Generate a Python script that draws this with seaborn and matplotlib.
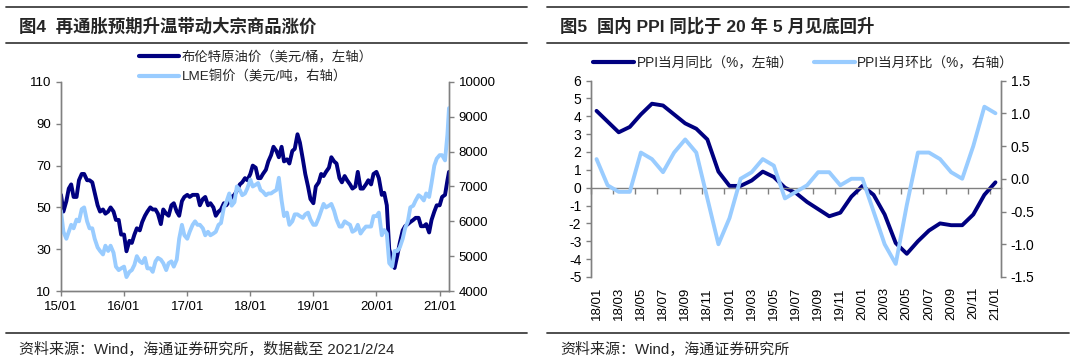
import numpy as np
import pandas as pd
import matplotlib
matplotlib.use('Agg')
import matplotlib.pyplot as plt
import matplotlib.dates as mdates
from matplotlib.lines import Line2D
import seaborn as sns

# ---- 图4：布伦特原油 / LME铜，半月取值 ----
oil_2015 = [56, 48, 53, 59, 61, 55, 55, 63, 66, 66, 63, 63, 62, 57, 51, 48, 49, 47, 48, 50, 48, 44, 44, 37]
oil_2016 = [37, 29, 34, 33, 37, 40, 39, 43, 46, 48, 50, 49, 49, 47, 42, 49, 47, 46, 51, 52, 48, 46, 53, 55]
oil_2017 = [56, 55, 56, 56, 56, 51, 54, 55, 51, 52, 50, 46, 48, 49, 52, 51, 53, 55, 56, 58, 61, 62, 64, 63]
oil_2018 = [66, 70, 69, 64, 64, 66, 68, 72, 75, 79, 77, 74, 79, 72, 73, 71, 77, 78, 85, 81, 73, 66, 60, 54]
oil_2019 = [52, 60, 62, 66, 65, 67, 69, 74, 72, 71, 64, 62, 65, 63, 61, 59, 60, 67, 59, 59, 61, 63, 61, 66]
oil_2020 = [67, 64, 56, 57, 51, 30, 25, 21, 27, 33, 39, 41, 42, 43, 44, 45, 45, 41, 41, 42, 38, 44, 48, 51]
oil_2021 = [51, 55, 56, 63, 67]

cu_2015 = [6300, 5700, 5500, 5700, 5900, 5800, 6050, 6000, 6350, 6400, 6000, 5800,
           5800, 5500, 5250, 5150, 5050, 5300, 5150, 5300, 5100, 4700, 4600, 4650]
cu_2016 = [4700, 4400, 4550, 4600, 4750, 5000, 4850, 4800, 4950, 4650, 4650, 4550,
           4850, 4950, 4900, 4800, 4600, 4800, 4850, 4700, 4900, 5500, 5900, 5600]
cu_2017 = [5500, 5700, 5900, 6000, 5900, 5900, 5800, 5600, 5700, 5600, 5650, 5700,
           5900, 5950, 6400, 6550, 6800, 6450, 6550, 7000, 6900, 6750, 6800, 6950]
cu_2018 = [7200, 7000, 7050, 7100, 6900, 6850, 6750, 6800, 6800, 6850, 6900, 7250,
           6600, 6150, 6250, 5900, 6000, 6200, 6200, 6150, 6100, 6200, 6250, 6050]
cu_2019 = [5900, 5900, 6100, 6300, 6500, 6400, 6450, 6500, 6300, 6050, 5850, 5850,
           6000, 5950, 5900, 5700, 5750, 5900, 5650, 5750, 5850, 5850, 5850, 6150]
cu_2020 = [6150, 6250, 5600, 5750, 5650, 4800, 4700, 5150, 5150, 5250, 5500, 5800,
           6000, 6400, 6450, 6600, 6750, 6700, 6600, 6800, 6700, 7100, 7600, 7800]
cu_2021 = [7900, 7900, 7750, 8500, 9250]

oil = oil_2015 + oil_2016 + oil_2017 + oil_2018 + oil_2019 + oil_2020 + oil_2021
copper = cu_2015 + cu_2016 + cu_2017 + cu_2018 + cu_2019 + cu_2020 + cu_2021
dates = pd.date_range('2015-01-01', '2021-02-15', freq='SMS').append(pd.DatetimeIndex(['2021-02-24']))

# ---- 图5：PPI 同比 / 环比（%），2018/01-2021/01 ----
ppi_yoy = [4.3, 3.7, 3.1, 3.4, 4.1, 4.7, 4.6, 4.1, 3.6, 3.3, 2.7, 0.9,
           0.1, 0.1, 0.4, 0.9, 0.6, 0.0, -0.3, -0.8, -1.2, -1.6, -1.4, -0.5,
           0.1, -0.4, -1.5, -3.1, -3.7, -3.0, -2.4, -2.0, -2.1, -2.1, -1.5, -0.4,
           0.3]
ppi_mom = [0.3, -0.1, -0.2, -0.2, 0.4, 0.3, 0.1, 0.4, 0.6, 0.4, -0.3, -1.0,
           -0.6, 0.0, 0.1, 0.3, 0.2, -0.3, -0.2, -0.1, 0.1, 0.1, -0.1, 0.0,
           0.0, -0.5, -1.0, -1.3, -0.4, 0.4, 0.4, 0.3, 0.1, 0.0, 0.5, 1.1,
           1.0]
months = pd.date_range('2018-01-01', '2021-01-01', freq='MS').strftime('%y/%m').tolist()

NAVY = '#000080'
LIGHT = '#99CCFF'
GREY = '#808080'

sns.set_style('ticks')
plt.rcParams['font.family'] = ['Liberation Sans', 'Noto Sans CJK SC']
plt.rcParams['axes.unicode_minus'] = False

W, H = 1080, 362
fig = plt.figure(figsize=(W / 100, H / 100), dpi=100)


def fx(px):
    return px / W


def fy(px):
    return 1 - px / H


# ---------- 左图 ----------
ax1 = fig.add_axes([fx(61), fy(291), fx(449 - 61), (291 - 82) / H])
ax1r = ax1.twinx()
sns.lineplot(x=dates, y=oil, ax=ax1, color=NAVY, linewidth=2.8, legend=False)
sns.lineplot(x=dates, y=copper, ax=ax1r, color=LIGHT, linewidth=2.8, legend=False)

ax1.set_xlim(pd.Timestamp('2015-01-01'), pd.Timestamp('2021-02-24'))
ax1.set_ylim(10, 110)
ax1.set_yticks(range(10, 111, 20))
ax1r.set_ylim(4000, 10000)
ax1r.set_yticks(range(4000, 10001, 1000))
ax1.xaxis.set_major_locator(mdates.YearLocator())
ax1.xaxis.set_major_formatter(mdates.DateFormatter('%y/%m'))
ax1.set_xlabel('')
ax1.set_ylabel('')
ax1r.set_ylabel('')

for a in (ax1, ax1r):
    a.spines['top'].set_visible(False)
    for s in a.spines.values():
        s.set_color(GREY)
        s.set_linewidth(1)
    a.tick_params(colors=GREY, labelcolor='black', labelsize=9.5, length=3.5, width=1)

h1 = [Line2D([], [], color=NAVY, lw=3), Line2D([], [], color=LIGHT, lw=3)]
fig.legend(h1, ['布伦特原油价（美元/桶，左轴）', 'LME铜价（美元/吨，右轴）'],
           loc='upper left', bbox_to_anchor=(fx(139), fy(51)), frameon=False,
           fontsize=9.6, handlelength=3.0, handletextpad=0.2, labelspacing=0.5,
           borderpad=0, borderaxespad=0)

# ---------- 右图 ----------
ax2 = fig.add_axes([fx(591), fy(277), fx(1001 - 591), (277 - 80.5) / H])
ax2r = ax2.twinx()
idx = np.arange(len(months))
sns.lineplot(x=idx, y=ppi_yoy, ax=ax2, color=NAVY, linewidth=2.8, legend=False)
sns.lineplot(x=idx, y=ppi_mom, ax=ax2r, color=LIGHT, linewidth=2.8, legend=False)
for ln in ax2.lines + ax2r.lines:
    ln.set_solid_joinstyle('round')
    ln.set_solid_capstyle('round')

ax2.set_xlim(-0.5, len(months) - 0.5)
ax2.set_ylim(-5, 6)
ax2.set_yticks(range(-5, 7))
ax2r.set_ylim(-1.5, 1.5)
ax2r.set_yticks(np.arange(-1.5, 1.51, 0.5))
ax2r.yaxis.set_major_formatter(matplotlib.ticker.FormatStrFormatter('%.1f'))
ax2.set_xticks(idx[::2])
ax2.set_xticklabels(months[::2])
ax2.set_xticks(np.arange(-0.5, len(months), 2), minor=True)
ax2.set_xlabel('')
ax2.set_ylabel('')
ax2r.set_ylabel('')

ax2.spines['bottom'].set_position(('data', 0))
ax2r.spines['bottom'].set_visible(False)
for a in (ax2, ax2r):
    a.spines['top'].set_visible(False)
    for s in a.spines.values():
        s.set_color(GREY)
        s.set_linewidth(1)
    a.tick_params(axis='y', colors=GREY, labelcolor='black', labelsize=10, length=3.5, width=1)

ax_h_pt = (277 - 80.5) / 100 * 72
pad_pt = ax_h_pt * 5 / 11 + 10 / 100 * 72
ax2.tick_params(axis='x', which='major', length=0, pad=pad_pt, labelrotation=90,
                labelsize=9.5, labelcolor='black')
ax2.tick_params(axis='x', which='minor', length=4, width=1, color=GREY, direction='out')

h2 = [Line2D([], [], color=NAVY, lw=3), Line2D([], [], color=LIGHT, lw=3)]
fig.legend(h2, ['PPI当月同比（%，左轴）', 'PPI当月环比（%，右轴）'],
           loc='center left', bbox_to_anchor=(fx(593), fy(63)), ncol=2, frameon=False,
           fontsize=9.8, handlelength=3.0, handletextpad=0.2, columnspacing=1.5,
           borderpad=0, borderaxespad=0)

# ---------- 标题、分隔线、来源 ----------
for x0, x1 in ((6, 527), (547, 1069)):
    for yy in (7, 43, 333):
        fig.add_artist(Line2D([fx(x0), fx(x1)], [fy(yy), fy(yy)], transform=fig.transFigure,
                              color='#404040', linewidth=1.3))

fig.text(fx(19), fy(26), '图4  再通胀预期升温带动大宗商品涨价', fontsize=12.5,
         fontweight='bold', va='center', ha='left')
fig.text(fx(560), fy(26), '图5  国内 PPI 同比于 20 年 5 月见底回升', fontsize=12.5,
         fontweight='bold', va='center', ha='left')
fig.text(fx(19), fy(350), '资料来源：Wind，海通证券研究所，数据截至 2021/2/24', fontsize=10.8,
         va='center', ha='left')
fig.text(fx(560), fy(350), '资料来源：Wind，海通证券研究所', fontsize=10.8,
         va='center', ha='left')

fig.savefig('out.png', dpi=100)
